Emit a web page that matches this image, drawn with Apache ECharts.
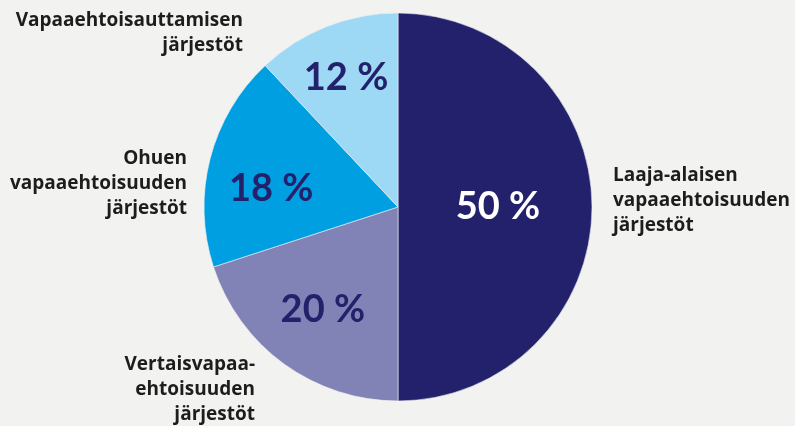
<!DOCTYPE html>
<html>
<head>
<meta charset="utf-8">
<script src="https://cdn.jsdelivr.net/npm/echarts@6/dist/echarts.min.js"></script>
<style>
  html, body { margin: 0; padding: 0; background: #f2f2f0; }
  #chart { width: 795px; height: 426px; }
</style>
</head>
<body>
<div id="chart"></div>
<script>
// slices clockwise from 12 o'clock
var names = [
  'Laaja-alaisen\nvapaaehtoisuuden\njärjestöt',
  'Vertaisvapaa-\nehtoisuuden\njärjestöt',
  'Ohuen\nvapaaehtoisuuden\njärjestöt',
  'Vapaaehtoisauttamisen\njärjestöt'
];
var shares = [50, 20, 18, 12];

var sliceColors = ['#23216b', '#8183b6', '#009fe2', '#9dd8f4'];
var pctColors = ['#ffffff', '#23216b', '#23216b', '#23216b'];
var ink = '#1d1d1b';

// where the category names sit (anchor x, middle y, alignment)
var nameSpots = [
  { x: 613, y: 201, align: 'left' },
  { x: 255, y: 390, align: 'right' },
  { x: 187, y: 184, align: 'right' },
  { x: 243, y: 33, align: 'right' }
];
// small nudges of the share labels inside the ring
var pctNudge = [[0, 0], [3, -5], [2, 15], [-3, -6]];

var center = [398, 207];
var outer = 194;

function pieData(showFn) {
  return names.map(function(n, i) {
    return {
      name: n,
      value: shares[i],
      label: { show: showFn(i), color: pctColors[i] }
    };
  });
}

var pctLabel = {
  position: 'inside',
  formatter: '{c} %',
  fontFamily: 'Lato',
  fontWeight: 'bold',
  fontSize: 38
};

var chart = echarts.init(document.getElementById('chart'), null, { renderer: 'canvas' });
chart.setOption({
  animation: false,
  backgroundColor: '#f2f2f0',
  series: [
    {
      type: 'pie',
      center: center,
      radius: [0, outer],
      startAngle: 90,
      clockwise: true,
      avoidLabelOverlap: false,
      silent: true,
      data: names.map(function(n, i) {
        return { name: n, value: shares[i], itemStyle: { color: sliceColors[i] } };
      }),
      itemStyle: { borderColor: '#eef0f4', borderWidth: 0.6 },
      label: {
        show: true,
        position: 'outside',
        formatter: '{b}',
        color: ink,
        fontFamily: 'Open Sans',
        fontWeight: 'bold',
        fontSize: 19,
        lineHeight: 25
      },
      labelLine: { show: false },
      labelLayout: function(p) {
        var s = nameSpots[p.dataIndex];
        return { x: s.x, y: s.y, align: s.align, verticalAlign: 'middle' };
      }
    },
    {
      // big share label at half radius
      type: 'pie',
      center: center,
      radius: [0, outer],
      startAngle: 90,
      clockwise: true,
      silent: true,
      itemStyle: { color: 'transparent', borderWidth: 0 },
      label: pctLabel,
      data: pieData(function(i) { return i === 0; })
    },
    {
      // smaller shares sit further out
      type: 'pie',
      center: center,
      radius: [66, outer],
      startAngle: 90,
      clockwise: true,
      silent: true,
      itemStyle: { color: 'transparent', borderWidth: 0 },
      label: pctLabel,
      labelLayout: function(p) {
        var n = pctNudge[p.dataIndex];
        return { dx: n[0], dy: n[1] };
      },
      data: pieData(function(i) { return i > 0; })
    }
  ]
});
window.addEventListener('resize', function() { chart.resize(); });
</script>
</body>
</html>
